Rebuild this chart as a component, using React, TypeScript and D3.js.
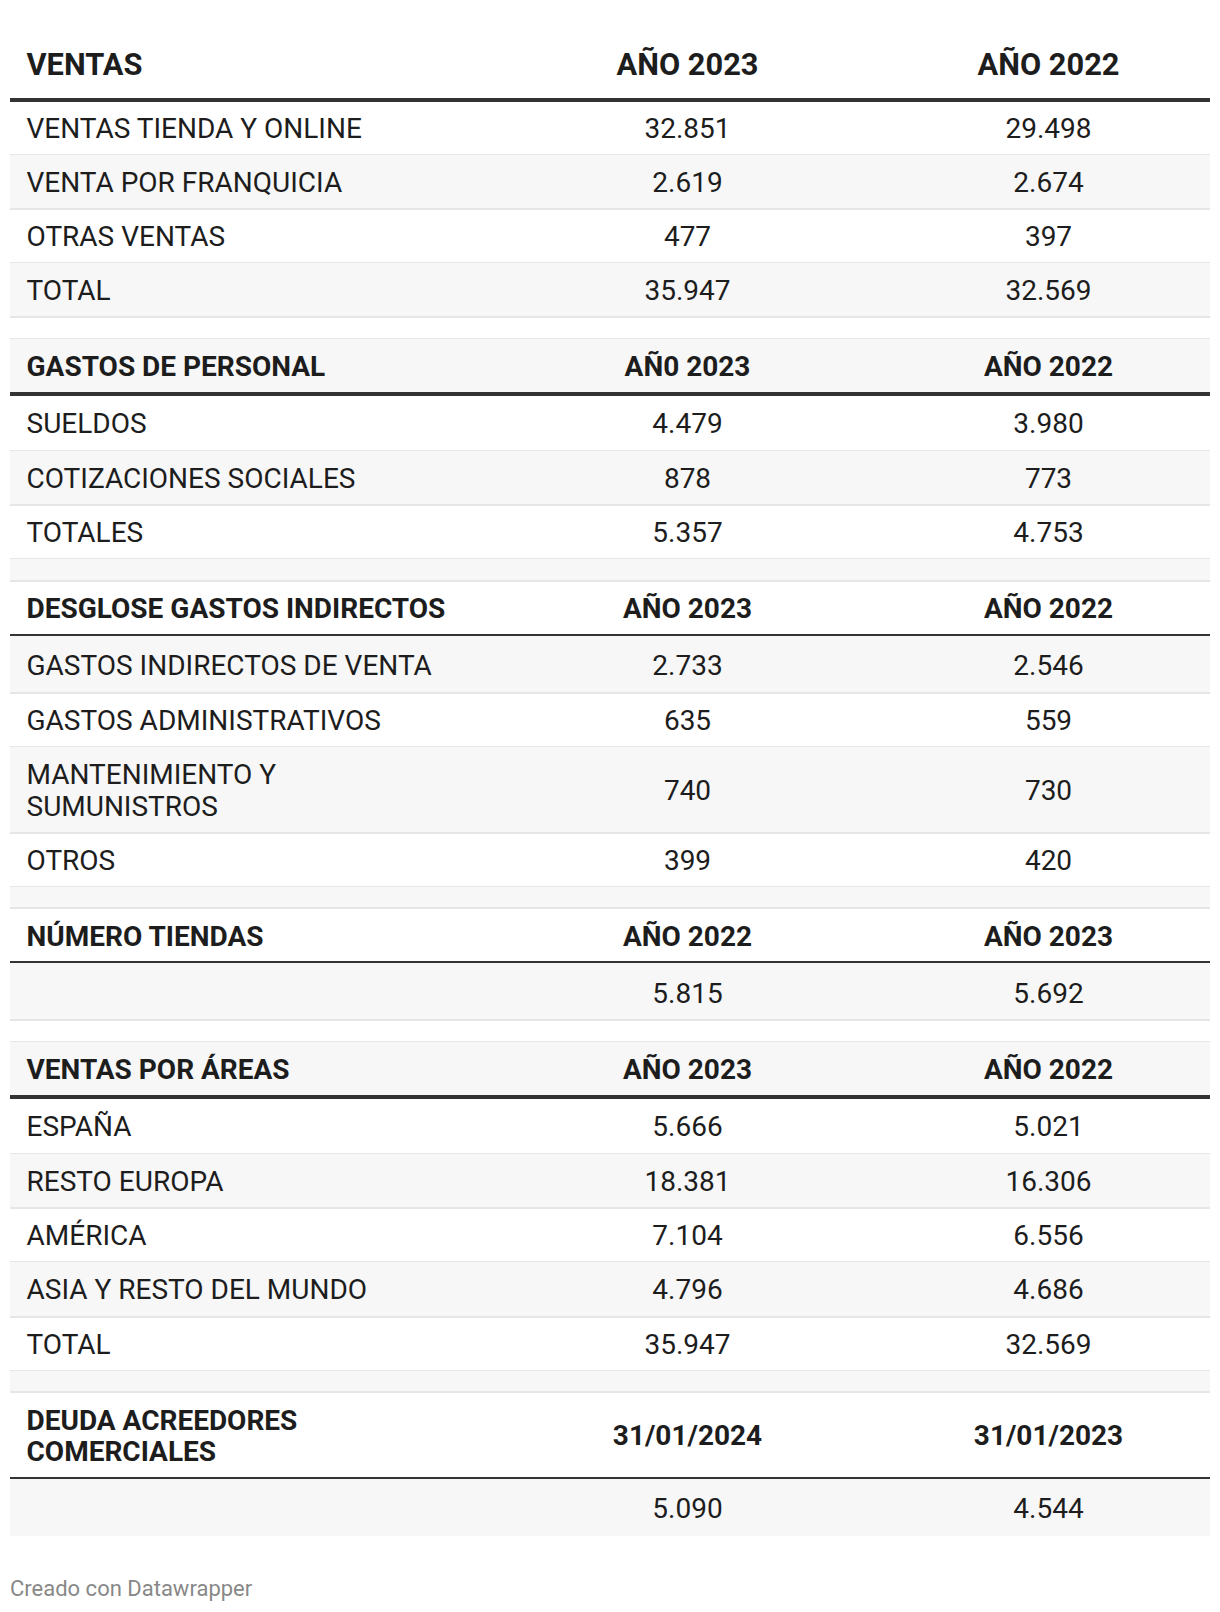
import React from "react";
import * as d3 from "d3";

// ---------- DATA ----------
const ventasHeader = ["VENTAS", "AÑO 2023", "AÑO 2022"];
const ventasLabels = ["VENTAS TIENDA Y ONLINE", "VENTA POR FRANQUICIA", "OTRAS VENTAS", "TOTAL"];
const ventas2023 = [32851, 2619, 477, 35947];
const ventas2022 = [29498, 2674, 397, 32569];

const personalHeader = ["GASTOS DE PERSONAL", "AÑ0 2023", "AÑO 2022"];
const personalLabels = ["SUELDOS", "COTIZACIONES SOCIALES", "TOTALES"];
const personal2023 = [4479, 878, 5357];
const personal2022 = [3980, 773, 4753];

const indirectosHeader = ["DESGLOSE GASTOS INDIRECTOS", "AÑO 2023", "AÑO 2022"];
const indirectosLabels = ["GASTOS INDIRECTOS DE VENTA", "GASTOS ADMINISTRATIVOS", "MANTENIMIENTO Y\nSUMUNISTROS", "OTROS"];
const indirectos2023 = [2733, 635, 740, 399];
const indirectos2022 = [2546, 559, 730, 420];

const tiendasHeader = ["NÚMERO TIENDAS", "AÑO 2022", "AÑO 2023"];
const tiendasLabels = [""];
const tiendasA = [5815];
const tiendasB = [5692];

const areasHeader = ["VENTAS POR ÁREAS", "AÑO 2023", "AÑO 2022"];
const areasLabels = ["ESPAÑA", "RESTO EUROPA", "AMÉRICA", "ASIA Y RESTO DEL MUNDO", "TOTAL"];
const areas2023 = [5666, 18381, 7104, 4796, 35947];
const areas2022 = [5021, 16306, 6556, 4686, 32569];

const deudaHeader = ["DEUDA ACREEDORES\nCOMERCIALES", "31/01/2024", "31/01/2023"];
const deudaLabels = [""];
const deudaA = [5090];
const deudaB = [4544];

const footerText = "Creado con Datawrapper";

// ---------- LAYOUT / STYLE ----------
const W = 1220;
const H = 1612;
const X0 = 10;
const X1 = 1210;
const PAD = 16.5;
const FS = 28;
const FS_MAIN = 30.8;
const CAP = 0.711;
const LINE = 31.5;
const ROW = 54.2;
const ROW_AFTER_THICK = 57;
const ROW_FIRST = 54.8;
const BLANK = 21.5;
const SEC = 55;
const MAIN_LINE_Y = 100;
const MAIN_TEXT_Y = 64;
const TEXT = "#1d1d1d";
const STRIPE = "#f7f7f7";
const THIN = "#e6e6e6";
const THICK = "#333333";
const FONT = "Roboto, 'Noto Sans', sans-serif";

const locale = d3.formatLocale({ decimal: ",", thousands: ".", grouping: [3], currency: ["", "€"] });
const fmt = locale.format(",d");

const colX = d3.scaleOrdinal<string, number>().domain(["a", "b"]).range([687.5, 1048.5]);

type Row = { kind: "data" | "blank" | "section"; cells: string[] };

function section(header: string[] | null, labels: string[], a: number[], b: number[]): Row[] {
  const rows: Row[] = [];
  if (header) rows.push({ kind: "section", cells: header });
  labels.forEach((l, i) => rows.push({ kind: "data", cells: [l, fmt(a[i]), fmt(b[i])] }));
  return rows;
}

const bodyRows: Row[] = [
  ...section(null, ventasLabels, ventas2023, ventas2022),
  { kind: "blank", cells: ["", "", ""] },
  ...section(personalHeader, personalLabels, personal2023, personal2022),
  { kind: "blank", cells: ["", "", ""] },
  ...section(indirectosHeader, indirectosLabels, indirectos2023, indirectos2022),
  { kind: "blank", cells: ["", "", ""] },
  ...section(tiendasHeader, tiendasLabels, tiendasA, tiendasB),
  { kind: "blank", cells: ["", "", ""] },
  ...section(areasHeader, areasLabels, areas2023, areas2022),
  { kind: "blank", cells: ["", "", ""] },
  ...section(deudaHeader, deudaLabels, deudaA, deudaB),
];

function Cell({ text, x, cy, anchor, bold, fs = FS }: { text: string; x: number; cy: number; anchor: string; bold: boolean; fs?: number }) {
  const lines = text.split("\n");
  const first = cy - ((lines.length - 1) * LINE) / 2 + (CAP * fs) / 2;
  return (
    <text
      x={x}
      textAnchor={anchor as any}
      fontFamily={FONT}
      fontSize={fs}
      fontWeight={bold ? 700 : 400}
      fill={TEXT}
    >
      {lines.map((l, i) => (
        <tspan key={i} x={x} y={first + i * LINE}>
          {l}
        </tspan>
      ))}
    </text>
  );
}

export default function App() {
  let y = MAIN_LINE_Y;
  let prevThick = true;
  const items: any[] = [];
  bodyRows.forEach((r, i) => {
    const nLines = Math.max(...r.cells.map((c) => c.split("\n").length));
    let base: number;
    if (r.kind === "blank") base = BLANK;
    else if (r.kind === "section") base = SEC;
    else base = prevThick ? (i === 0 ? ROW_FIRST : ROW_AFTER_THICK) : ROW;
    const h = base + (nLines - 1) * LINE;
    const top = y;
    const bottom = y + h;
    const cy = (top + bottom) / 2 + (prevThick ? 1 : 0);
    const isLast = i === bodyRows.length - 1;
    const rTop = Math.round(top);
    const rBot = Math.round(bottom);
    items.push(
      <g key={i}>
        {i % 2 === 1 && <rect x={X0} y={rTop} width={X1 - X0} height={rBot - rTop} fill={STRIPE} />}
        {r.kind === "section" ? (
          <rect x={X0} y={rBot - 2} width={X1 - X0} height={4} fill={THICK} />
        ) : (
          !isLast && <rect x={X0} y={rBot - 1} width={X1 - X0} height={2} fill={THIN} />
        )}
        {r.kind !== "blank" && (
          <>
            <Cell text={r.cells[0]} x={X0 + PAD} cy={cy} anchor="start" bold={r.kind === "section"} />
            <Cell text={r.cells[1]} x={colX("a")} cy={cy} anchor="middle" bold={r.kind === "section"} />
            <Cell text={r.cells[2]} x={colX("b")} cy={cy} anchor="middle" bold={r.kind === "section"} />
          </>
        )}
      </g>
    );
    prevThick = r.kind === "section";
    y = bottom;
  });

  return (
    <svg
      width={W}
      height={H}
      style={{ position: "absolute", left: 0, top: 0, background: "#ffffff" }}
    >
      <rect x={0} y={0} width={W} height={H} fill="#ffffff" />
      {items}
      <Cell text={ventasHeader[0]} x={X0 + PAD} cy={MAIN_TEXT_Y} anchor="start" bold={true} fs={FS_MAIN} />
      <Cell text={ventasHeader[1]} x={colX("a")} cy={MAIN_TEXT_Y} anchor="middle" bold={true} fs={FS_MAIN} />
      <Cell text={ventasHeader[2]} x={colX("b")} cy={MAIN_TEXT_Y} anchor="middle" bold={true} fs={FS_MAIN} />
      <rect x={X0} y={MAIN_LINE_Y - 2} width={X1 - X0} height={4} fill={THICK} />
      <text x={X0} y={1588 + (CAP * 22) / 2} fontFamily={FONT} fontSize={22} fill="#888888">
        {footerText}
      </text>
    </svg>
  );
}
